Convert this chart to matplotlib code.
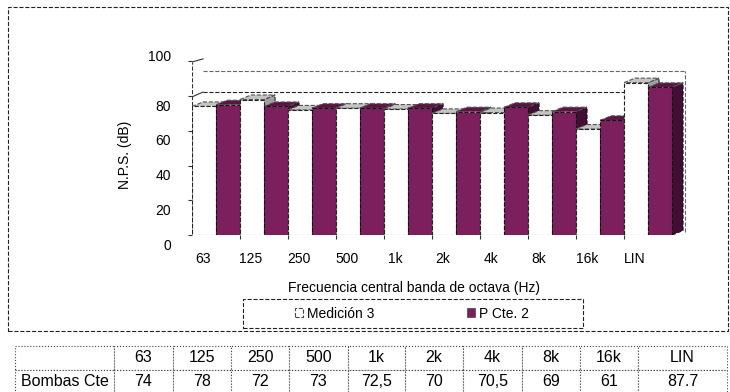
import matplotlib.pyplot as plt
import numpy as np
from matplotlib.patches import Polygon, Rectangle
from matplotlib.transforms import ScaledTranslation

plt.rcParams['font.family'] = ['Liberation Sans', 'DejaVu Sans']

bands = ["63", "125", "250", "500", "1k", "2k", "4k", "8k", "16k", "LIN"]
medicion3 = [74, 78, 72, 73, 72.5, 70, 70.5, 69, 61, 87.7]
p_cte2 = [75, 74, 73, 73, 73, 71, 73.5, 71, 66, 85]
table_row = ["74", "78", "72", "73", "72,5", "70", "70,5", "69", "61", "87.7"]
yticks = [0, 20, 40, 60, 80, 100]

W, H = 730, 392
fig = plt.figure(figsize=(7.3, 3.92), dpi=100)


def px(x0, y0, x1, y1):
    # pixel box (origin top-left) -> figure fraction rect
    return [x0 / W, 1 - y1 / H, (x1 - x0) / W, (y1 - y0) / H]


ax = fig.add_axes(px(192, 40, 700, 235))
ax.set_xlim(0, 508 / 48)
ax.set_ylim(0, 195 / 1.737)
for s in ax.spines.values():
    s.set_visible(False)

purple = "#7d1e5d"
series = [
    (medicion3, "white", "#c4c4c4", "#a0a0a0", "#222222"),
    (p_cte2, purple, "#5c1446", "#420e33", "#111111"),
]

# 3d look: depth offset
dx, dy = 0.23, 2.6
w = 0.5
n = len(bands)

# back walls / floor
top_wall = 94.4
ax.plot([0, 0], [0, 99.6], ls="--", color="#333", lw=0.8, zorder=1)
ax.plot([0, dx], [99.6, 99.6 + 1.8], color="#333", lw=0.8, zorder=1)
ax.plot([0, dx], [79.5, 82.3], color="#333", lw=0.8, zorder=1)
ax.plot([dx, n + dx + 0.04], [top_wall, top_wall], ls="--", color="#666", lw=0.8, zorder=1)
ax.plot([dx, n + dx], [82.3, 82.3], ls="--", color="#222", lw=0.8, zorder=1)
ax.plot([n + dx + 0.04, n + dx + 0.04], [dy - 1, top_wall], ls="--", color="#666", lw=0.8, zorder=1)
ax.plot([0, n + dx], [0, 0], ls="--", color="#333", lw=0.8, zorder=1)

for i in range(n):
    for k, (vals, front, top, side, ec) in enumerate(series):
        x0 = i + k * w
        v = vals[i]
        z = 3 + i * 2 + k
        ax.add_patch(Polygon([(x0 + w, 0), (x0 + w + dx, dy), (x0 + w + dx, v + dy), (x0 + w, v)],
                             fc=side, ec=ec, ls="--", lw=0.8, zorder=z))
        ax.add_patch(Polygon([(x0, v), (x0 + dx, v + dy), (x0 + w + dx, v + dy), (x0 + w, v)],
                             fc=top, ec="#555", ls="--", lw=0.8, zorder=z))
        ax.bar(x0, v, w, align="edge", color=front, ec=ec, ls="--", lw=0.8, zorder=z)

# y axis
ax.set_yticks(yticks)
ax.set_yticklabels([str(t) for t in yticks])
ax.tick_params(axis="y", length=3, pad=12, labelsize=10, color="#333")
for t, lab in zip(yticks, ax.get_yticklabels()):
    off = 6 / 100 if t == 100 else -9 / 100
    lab.set_transform(lab.get_transform() + ScaledTranslation(0, off, fig.dpi_scale_trans))

# x axis: ticks at category borders, labels shifted to the front floor
ax.set_xticks(np.arange(1, n))
ax.set_xticklabels([])
ax.set_xticks(np.arange(n) + 0.5, minor=True)
ax.set_xticklabels(bands, minor=True)
ax.tick_params(axis="x", which="major", length=3, color="#333")
ax.tick_params(axis="x", which="minor", length=0, pad=12, labelsize=10)
for lab in ax.get_xticklabels(minor=True):
    lab.set_transform(lab.get_transform() + ScaledTranslation(-13 / 100, 0, fig.dpi_scale_trans))

fig.text(125 / W, 1 - 155 / H, "N.P.S. (dB)", rotation=90, ha="center", va="center", fontsize=10)
fig.text(414 / W, 1 - 288 / H, "Frecuencia central banda de octava (Hz)", ha="center", va="center", fontsize=10)

# legend
fig.add_artist(Rectangle((243 / W, 1 - 328 / H), 340 / W, 29 / H, fill=False, ls="--", lw=0.8,
                         ec="#222", transform=fig.transFigure))
handles = [Rectangle((0, 0), 1, 1, fc="white", ec="#444", ls="--", lw=0.8),
           Rectangle((0, 0), 1, 1, fc=purple, ec="#444", lw=0.5)]
fig.legend(handles, ["Medición 3", "P Cte. 2"], loc="center", bbox_to_anchor=(412 / W, 1 - 313.5 / H),
           ncol=2, frameon=False, fontsize=10, handlelength=0.6, handleheight=0.6,
           handletextpad=0.3, columnspacing=6.6)

# outer chart border
fig.add_artist(Rectangle((8 / W, 1 - 331 / H), 720 / W, 324 / H, fill=False, ls="--", lw=0.8,
                         ec="#222", transform=fig.transFigure))

# data table below
edges = [15, 114, 173, 231, 289, 348, 405, 463, 522, 580, 638, 727]
tax = fig.add_axes(px(15, 346, 727, 394))
tax.axis("off")
tbl = tax.table(cellText=[[""] + bands, ["Bombas Cte"] + table_row],
                colWidths=list(np.diff(edges)), cellLoc="center", bbox=[0, 0, 1, 1])
tbl.auto_set_font_size(False)
tbl.set_fontsize(11.5)
for (r, c), cell in tbl.get_celld().items():
    cell.set_linestyle(":")
    cell.set_linewidth(0.8)
    cell.set_edgecolor("#444")
tbl[1, 0]._loc = "left"
tbl[1, 0].PAD = 0.015

fig.savefig("out.png", dpi=100)
